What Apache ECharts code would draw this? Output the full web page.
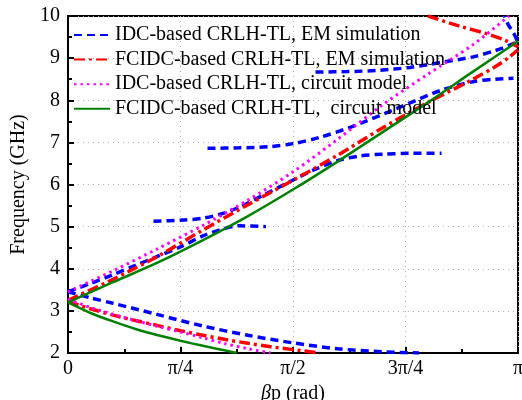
<!DOCTYPE html>
<html><head><meta charset="utf-8">
<script src="https://cdn.jsdelivr.net/npm/echarts@6/dist/echarts.min.js"></script>
<style>html,body{margin:0;padding:0;background:#fff;}#c{width:522px;height:400px;}</style>
</head><body><div id="c"></div>
<script>
// x values are in units of pi (0..1)
const xTickLabels = ['0', 'π/4', 'π/2', '3π/4', 'π'];
const seriesNames = [
  'IDC-based CRLH-TL, EM simulation',
  'FCIDC-based CRLH-TL, EM simulation',
  'IDC-based CRLH-TL, circuit model',
  'FCIDC-based CRLH-TL,  circuit model'
];
// IDC-based EM simulation (blue)
const idcEmLow = [[0,3.45],[0.05,3.31],[0.1,3.18],[0.2,2.91],[0.3,2.64],[0.4,2.42],[0.5,2.24],[0.6,2.1],[0.7,2.03],[0.78,2.0]];
const idcEmA = [[0,3.45],[0.05,3.65],[0.1,3.86],[0.15,4.08],[0.2,4.3],[0.25,4.52],[0.3,4.78],[0.34,4.93],[0.38,5.02],[0.44,5.0]];
const idcEmB = [[0.19,5.13],[0.25,5.15],[0.3,5.2],[0.34,5.3],[0.38,5.46],[0.44,5.78],[0.49,6.05],[0.545,6.34],[0.6,6.57],[0.65,6.68],[0.7,6.72],[0.76,6.74],[0.83,6.74]];
const idcEmC = [[0.31,6.86],[0.38,6.87],[0.45,6.9],[0.5,6.97],[0.56,7.12],[0.63,7.37],[0.73,7.8],[0.83,8.24],[0.9,8.44],[0.95,8.5],[0.99,8.52]];
const idcEmD = [[0.55,8.67],[0.62,8.68],[0.69,8.71],[0.76,8.78],[0.83,8.9],[0.9,9.03],[0.95,9.18],[0.98,9.3],[0.998,9.38]];
const idcEmE = [[0.998,9.42],[0.99,9.6],[0.978,9.8],[0.97,10]];
// FCIDC-based EM simulation (red)
const fcEmLow = [[0,3.22],[0.05,3.05],[0.1,2.9],[0.15,2.77],[0.2,2.65],[0.25,2.53],[0.3,2.42],[0.35,2.32],[0.4,2.23],[0.45,2.15],[0.5,2.08],[0.56,2.0]];
const fcEm1 = [[0,3.25],[0.1,3.75],[0.2,4.3],[0.3,4.92],[0.4,5.52],[0.5,6.1],[0.6,6.7],[0.7,7.35],[0.8,7.95],[0.9,8.5],[0.95,8.8],[0.98,9.02],[1.0,9.2]];
const fcEm2 = [[0.8,10],[0.87,9.76],[0.93,9.58],[0.97,9.43],[1.0,9.27]];
// IDC-based circuit model (magenta)
const idcCktLow = [[0,3.28],[0.05,3.08],[0.1,2.92],[0.15,2.77],[0.2,2.63],[0.25,2.5],[0.3,2.36],[0.35,2.22],[0.4,2.1],[0.45,2.0]];
const idcCkt = [[0,3.45],[0.1,3.95],[0.2,4.48],[0.3,5.03],[0.4,5.63],[0.5,6.3],[0.6,7.08],[0.7,7.9],[0.8,8.62],[0.9,9.32],[0.98,10]];
// FCIDC-based circuit model (green)
const fcCktLow = [[0,3.2],[0.05,2.95],[0.1,2.75],[0.15,2.57],[0.2,2.42],[0.25,2.29],[0.3,2.17],[0.35,2.06],[0.375,2.0]];
const fcCkt = [[0,3.2],[0.1,3.68],[0.2,4.15],[0.3,4.68],[0.4,5.25],[0.5,5.88],[0.6,6.55],[0.7,7.25],[0.8,7.95],[0.9,8.68],[1.0,9.4]];

const FONT = 'Liberation Serif';
const styles = [
  {color:'#0000ff', width:3.5, type:[8,5]},
  {color:'#ff0000', width:3.5, type:[11,4,3,4]},
  {color:'#ff00ff', width:3, type:[2.5,4]},
  {color:'#008000', width:2.5, type:'solid'}
];
function mk(nameIdx, data){
  const s = styles[nameIdx];
  return {
    type:'line', name: seriesNames[nameIdx], data: data, showSymbol:false, symbol:'none',
    smooth:0.3, clip:true,
    lineStyle:{color:s.color, width:s.width, type:s.type, cap:'butt'},
    itemStyle:{color:s.color}
  };
}
const series = [
  mk(0, idcEmLow), mk(0, idcEmA), mk(0, idcEmB), mk(0, idcEmC), mk(0, idcEmD), mk(0, idcEmE),
  mk(1, fcEmLow), mk(1, fcEm1), mk(1, fcEm2),
  mk(2, idcCktLow), mk(2, idcCkt),
  mk(3, fcCktLow), mk(3, fcCkt)
];
const chart = echarts.init(document.getElementById('c'), null, {renderer:'canvas'});
chart.setOption({
  animation:false,
  backgroundColor:'#fff',
  textStyle:{fontFamily:FONT},
  grid:{left:68, right:4, top:16, bottom:47, show:true, borderColor:'#000', borderWidth:2,
        containLabel:false, outerBoundsMode:'none'},
  legend:{
    data: seriesNames,
    orient:'vertical', left:68, top:18, itemWidth:36, itemHeight:12, itemGap:0.6,
    itemStyle:{opacity:0},
    textStyle:{fontFamily:FONT, fontSize:20, color:'#000', lineHeight:24}
  },
  xAxis:{
    type:'value', min:0, max:1, interval:0.25,
    name:'{i|β}p (rad)', nameLocation:'middle', nameGap:29,
    nameTextStyle:{fontFamily:FONT, fontSize:20, color:'#000', rich:{i:{fontStyle:'italic', fontFamily:FONT, fontSize:20, color:'#000'}}},
    axisLine:{show:true, lineStyle:{color:'#000', width:2}},
    axisTick:{show:true, inside:true, length:6, lineStyle:{color:'#000', width:2}},
    minorTick:{show:true, splitNumber:2, length:4, lineStyle:{color:'#000', width:2}},
    axisLabel:{fontFamily:FONT, fontSize:20, color:'#000', margin:6,
      formatter:function(v){ const i=Math.round(v*4); return xTickLabels[i]; }},
    splitLine:{show:true, lineStyle:{color:'#aaa', type:[1,4], width:1}}
  },
  yAxis:{
    type:'value', min:2, max:10, interval:1,
    name:'Frequency (GHz)', nameLocation:'middle', nameGap:36,
    nameTextStyle:{fontFamily:FONT, fontSize:20, color:'#000'},
    axisLine:{show:true, lineStyle:{color:'#000', width:2}},
    axisTick:{show:true, inside:true, length:6, lineStyle:{color:'#000', width:2}},
    minorTick:{show:true, splitNumber:2, length:4, lineStyle:{color:'#000', width:2}},
    axisLabel:{fontFamily:FONT, fontSize:20, color:'#000', margin:8},
    splitLine:{show:true, lineStyle:{color:'#aaa', type:[1,4], width:1}}
  },
  series: series
});
</script></body></html>
